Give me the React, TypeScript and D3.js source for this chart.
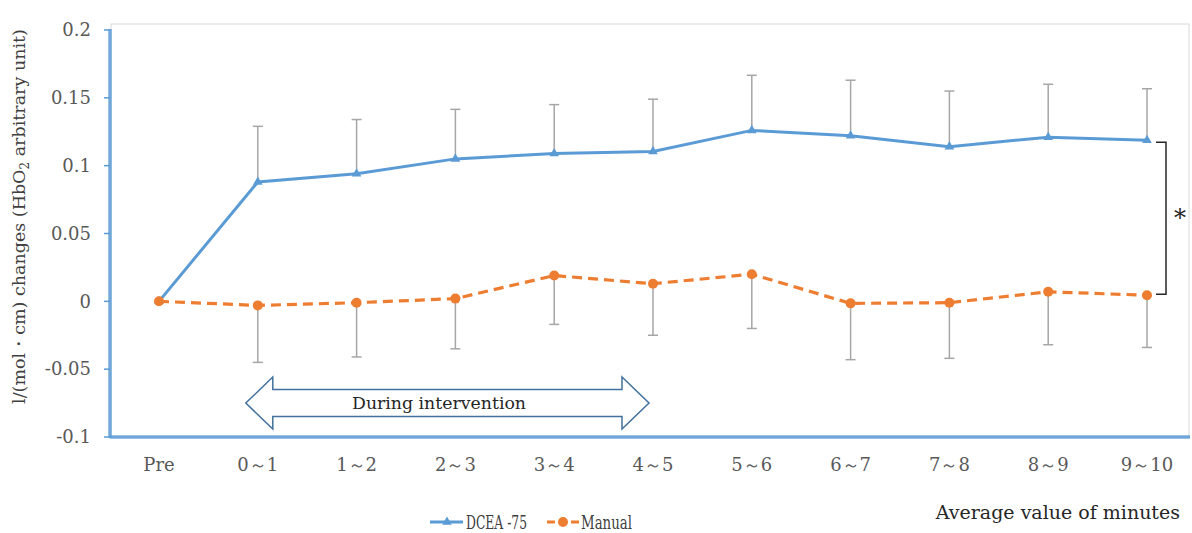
import { useRef, useEffect } from "react";
import * as d3 from "d3";

const categories = ["Pre", "0～1", "1～2", "2～3", "3～4", "4～5", "5～6", "6～7", "7～8", "8～9", "9～10"];
const dceaMean = [0, 0.088, 0.094, 0.105, 0.109, 0.1105, 0.126, 0.122, 0.114, 0.121, 0.1187];
const dceaErr = [0, 0.041, 0.040, 0.0365, 0.036, 0.0385, 0.0406, 0.041, 0.041, 0.039, 0.038];
const manualMean = [0, -0.003, -0.001, 0.002, 0.019, 0.013, 0.020, -0.0015, -0.001, 0.007, 0.0045];
const manualErr = [0, 0.042, 0.040, 0.037, 0.036, 0.038, 0.040, 0.0415, 0.041, 0.039, 0.0385];
const yTicks = [-0.1, -0.05, 0, 0.05, 0.1, 0.15, 0.2];

const BLUE = "#5b9bd5";
const ORANGE = "#ed7d31";
const FONT = "'DejaVu Serif', 'Liberation Serif', serif";

function drawChart(svgRef) {
    const width = 1192, height = 533;
    const svg = d3.select(svgRef.current);
    svg.selectAll("*").remove();
    svg.attr("width", width).attr("height", height).attr("viewBox", `0 0 ${width} ${height}`);

    const x = d3.scalePoint().domain(categories).range([159, 1147]);
    const y = d3.scaleLinear().domain([-0.1, 0.2]).range([437, 30]);

    // chart area border
    svg.append("rect")
        .attr("x", 111).attr("y", 24).attr("width", 1078).attr("height", 413)
        .attr("fill", "none").attr("stroke", "#d9d9d9").attr("stroke-width", 1);

    // y ticks + labels
    const yg = svg.append("g");
    yg.selectAll("line").data(yTicks).join("line")
        .attr("x1", 104).attr("x2", 110)
        .attr("y1", d => y(d)).attr("y2", d => y(d))
        .attr("stroke", BLUE).attr("stroke-width", 1.5);
    yg.selectAll("text").data(yTicks).join("text")
        .attr("x", 91).attr("y", d => y(d)).attr("dy", "0.35em")
        .attr("text-anchor", "end")
        .attr("font-family", FONT).attr("font-size", 18).attr("fill", "#595959")
        .text(d => String(+d.toFixed(2)));

    // x labels
    svg.append("g").selectAll("text").data(categories).join("text")
        .attr("x", d => x(d)).attr("y", 471)
        .attr("text-anchor", "middle")
        .attr("font-family", FONT).attr("font-size", 18).attr("fill", "#595959")
        .text(d => d);

    // axes lines
    svg.append("line").attr("x1", 110).attr("x2", 1190).attr("y1", 437).attr("y2", 437)
        .attr("stroke", BLUE).attr("stroke-width", 3.5).attr("stroke-opacity", 0.85);
    svg.append("line").attr("x1", 110).attr("x2", 110).attr("y1", 29).attr("y2", 438)
        .attr("stroke", BLUE).attr("stroke-width", 3.5).attr("stroke-opacity", 0.85);

    // y title
    const yt = svg.append("text")
        .attr("transform", `translate(25,${y(0.05) - 17}) rotate(-90)`)
        .attr("text-anchor", "middle")
        .attr("font-family", FONT).attr("font-size", 17.5).attr("fill", "#404040");
    yt.append("tspan").text("l/(mol・cm) changes (HbO");
    yt.append("tspan").attr("font-size", 12).attr("dy", 4).text("2");
    yt.append("tspan").attr("dy", -4).text(" arbitrary unit)");

    // error bars
    const errBars = (means, errs, dir) => {
        const g = svg.append("g").attr("stroke", "#a6a6a6").attr("stroke-width", 1.5);
        categories.forEach((c, i) => {
            if (errs[i] === 0) return;
            const end = y(means[i] + dir * errs[i]);
            g.append("line").attr("x1", x(c)).attr("x2", x(c)).attr("y1", y(means[i])).attr("y2", end);
            g.append("line").attr("x1", x(c) - 5).attr("x2", x(c) + 5).attr("y1", end).attr("y2", end);
        });
    };
    errBars(dceaMean, dceaErr, 1);
    errBars(manualMean, manualErr, -1);

    const line = d3.line().x((d, i) => x(categories[i])).y(d => y(d));

    svg.append("path").datum(dceaMean).attr("d", line)
        .attr("fill", "none").attr("stroke", BLUE).attr("stroke-width", 3);
    svg.append("g").selectAll("path").data(dceaMean).join("path")
        .attr("transform", (d, i) => `translate(${x(categories[i])},${y(d)})`)
        .attr("d", d3.symbol(d3.symbolTriangle, 40))
        .attr("fill", BLUE);

    svg.append("path").datum(manualMean).attr("d", line)
        .attr("fill", "none").attr("stroke", ORANGE).attr("stroke-width", 3.2)
        .attr("stroke-dasharray", "10,6");
    svg.append("g").selectAll("circle").data(manualMean).join("circle")
        .attr("cx", (d, i) => x(categories[i])).attr("cy", d => y(d))
        .attr("r", 5).attr("fill", ORANGE);

    // during intervention arrow
    const ax0 = x("0～1") - 12, ax1 = x("4～5") - 4, ay = y(-0.075);
    const sh = 13.5, hh = 26, hl = 27;
    const pts = [
        [ax0, ay], [ax0 + hl, ay - hh], [ax0 + hl, ay - sh], [ax1 - hl, ay - sh], [ax1 - hl, ay - hh],
        [ax1, ay], [ax1 - hl, ay + hh], [ax1 - hl, ay + sh], [ax0 + hl, ay + sh], [ax0 + hl, ay + hh]
    ];
    svg.append("polygon").attr("points", pts.map(p => p.join(",")).join(" "))
        .attr("fill", "#ffffff").attr("stroke", "#41719c").attr("stroke-width", 1.5);
    svg.append("text").attr("x", 439).attr("y", ay + 6)
        .attr("text-anchor", "middle").attr("font-family", FONT).attr("font-size", 16).attr("fill", "#262626")
        .attr("textLength", 174).attr("lengthAdjust", "spacingAndGlyphs")
        .text("During intervention");

    // significance bracket
    const last = categories[categories.length - 1];
    const bx = x(last) + 19;
    const by0 = y(dceaMean[dceaMean.length - 1]) + 2, by1 = y(manualMean[manualMean.length - 1]) - 1;
    svg.append("path")
        .attr("d", `M${bx - 10},${by0}H${bx}V${by1}H${bx - 10}`)
        .attr("fill", "none").attr("stroke", "#262626").attr("stroke-width", 1.5);
    svg.append("text").attr("x", bx + 14).attr("y", (by0 + by1) / 2 + 8)
        .attr("text-anchor", "middle").attr("font-family", FONT).attr("font-size", 24).attr("fill", "#262626")
        .text("*");

    // legend
    const lg = svg.append("g").attr("font-family", FONT).attr("font-size", 18).attr("fill", "#404040");
    lg.append("line").attr("x1", 430).attr("x2", 463).attr("y1", 522).attr("y2", 522)
        .attr("stroke", BLUE).attr("stroke-width", 3);
    lg.append("path").attr("transform", "translate(447,522)").attr("d", d3.symbol(d3.symbolTriangle, 40)).attr("fill", BLUE);
    lg.append("text").attr("x", 466).attr("y", 529).attr("textLength", 61).attr("lengthAdjust", "spacingAndGlyphs").text("DCEA -75");
    lg.append("line").attr("x1", 547).attr("x2", 580).attr("y1", 522).attr("y2", 522)
        .attr("stroke", ORANGE).attr("stroke-width", 3.2).attr("stroke-dasharray", "8,4");
    lg.append("circle").attr("cx", 563).attr("cy", 522).attr("r", 5).attr("fill", ORANGE);
    lg.append("text").attr("x", 581).attr("y", 529).attr("textLength", 51).attr("lengthAdjust", "spacingAndGlyphs").text("Manual");

    svg.append("text").attr("x", 1180).attr("y", 519).attr("text-anchor", "end")
        .attr("font-family", FONT).attr("font-size", 19).attr("fill", "#262626")
        .text("Average value of minutes");
}

export default function App() {
    const svg = useRef(null);
    useEffect(() => {
        drawChart(svg);
    }, [svg]);

    return <svg ref={svg} style={{ position: "absolute", left: 0, top: 0, background: "#fff" }} />;
}
